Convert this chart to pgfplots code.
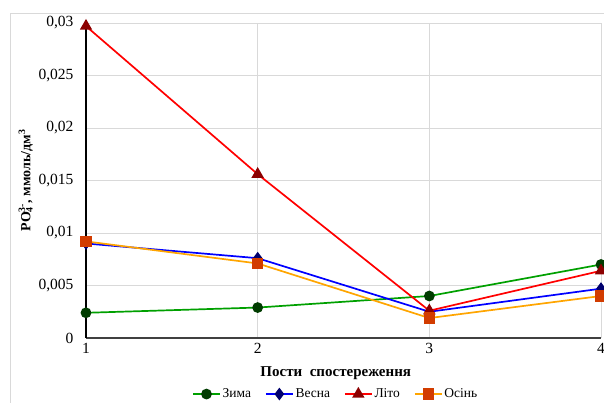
\documentclass[border=0pt]{standalone}
\usepackage{pgfplots}
\pgfplotsset{compat=1.18}
\usepackage{fontspec}
\setmainfont{Liberation Serif}
\definecolor{zimaL}{RGB}{0,160,0}
\definecolor{zimaM}{RGB}{0,60,0}
\definecolor{vesnaL}{RGB}{0,0,255}
\definecolor{vesnaM}{RGB}{0,0,110}
\definecolor{litoL}{RGB}{255,0,0}
\definecolor{litoM}{RGB}{140,0,0}
\definecolor{osinL}{RGB}{255,165,0}
\definecolor{osinM}{RGB}{210,60,0}
\definecolor{gridc}{RGB}{217,217,217}
\begin{document}
\begin{tikzpicture}
\useasboundingbox (-86pt,-65pt) rectangle (518pt,338pt);
\draw[gridc, line width=0.8pt] (-76pt,-80pt) -- (-76pt,325pt) -- (530pt,325pt);
\begin{axis}[
  at={(0pt,0pt)}, anchor=south west,
  scale only axis, width=515pt, height=315pt,
  xmin=1, xmax=4, ymin=0, ymax=0.03,
  xtick={1,2,3,4},
  ytick={0,0.005,0.01,0.015,0.02,0.025,0.03},
  scaled y ticks=false,
  yticklabel={\rmfamily\pgfmathprintnumber[assume math mode=true,use comma,fixed,precision=3]{\tick}},
  xticklabel={\rmfamily\pgfmathprintnumber[assume math mode=true]{\tick}},
  yticklabel style={xshift=-9pt},
  ticklabel style={font=\rmfamily\fontsize{15.5}{15.5}\selectfont},
  xticklabel style={yshift=-2pt},
  axis lines=left,
  axis line style={-},
  x axis line style={line width=1.6pt, draw=black!75},
  y axis line style={line width=1.6pt, draw=black},
  major tick length=0pt,
  grid=major,
  major grid style={gridc, line width=0.8pt},
  xlabel={\textbf{Пости\ \ спостереження}},
  xlabel style={font=\fontsize{15}{15}\selectfont, at={(axis description cs:0.485,0)}, anchor=center, yshift=-35pt},
  ylabel={\textbf{PO\rlap{\textsubscript{4}}\textsuperscript{3-}, ммоль/дм\textsuperscript{3}}},
  ylabel style={font=\fontsize{14}{14}\selectfont, at={(axis description cs:-0.117,0.5)}, anchor=center},
  legend columns=4,
  legend style={at={(0.485,-0.178)}, anchor=center, draw=none, fill=none,
    font=\fontsize{13.5}{13.5}\selectfont,
    /tikz/every even column/.append style={column sep=12pt}},
  legend image code/.code={
    \draw[#1, mark repeat=2, mark phase=2] plot coordinates {(0cm,0cm) (0.47cm,0cm) (0.94cm,0cm)};},
  clip=false,
]
\addplot[zimaL, line width=1.7pt, mark=*, mark size=4.5pt, mark options={fill=zimaM, draw=zimaM}]
  coordinates {(1,0.0024) (2,0.0029) (3,0.0040) (4,0.0070)};
\addlegendentry{Зима}
\addplot[vesnaL, line width=1.7pt, mark=diamond*, mark size=5pt, mark options={fill=vesnaM, draw=vesnaM}]
  coordinates {(1,0.0090) (2,0.0076) (3,0.0025) (4,0.0047)};
\addlegendentry{Весна}
\addplot[litoL, line width=1.7pt, mark=triangle*, mark size=5.5pt, mark options={fill=litoM, draw=litoM}]
  coordinates {(1,0.0297) (2,0.0156) (3,0.0026) (4,0.0064)};
\addlegendentry{Літо}
\addplot[osinL, line width=1.7pt, mark=square*, mark size=4.8pt, mark options={fill=osinM, draw=osinM}]
  coordinates {(1,0.0092) (2,0.0071) (3,0.0019) (4,0.0040)};
\addlegendentry{Осінь}
\end{axis}
\end{tikzpicture}
\end{document}
